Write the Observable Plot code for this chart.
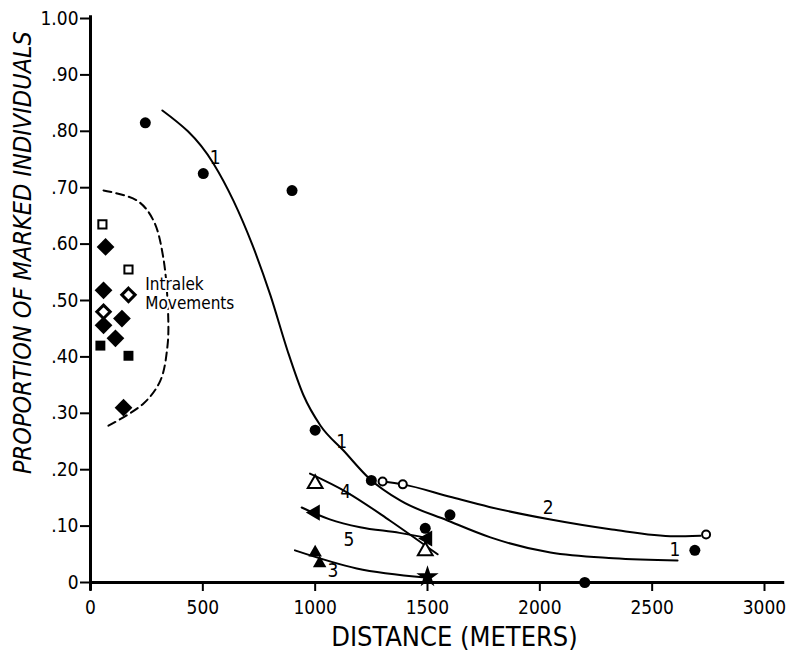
<!DOCTYPE html>
<html><head><meta charset="utf-8">
<script src="https://cdn.jsdelivr.net/npm/d3@7"></script>
<script src="https://cdn.jsdelivr.net/npm/@observablehq/plot@0.6"></script>
<style>body{margin:0;background:#fff} svg{display:block}</style>
</head><body><div id="chart"></div>
<script>
// Axis ticks
const xTicks = [0, 500, 1000, 1500, 2000, 2500, 3000];
const yTicks = [0, 0.1, 0.2, 0.3, 0.4, 0.5, 0.6, 0.7, 0.8, 0.9, 1.0];
const yTickLabels = ["0", ".10", ".20", ".30", ".40", ".50", ".60", ".70", ".80", ".90", "1.00"];

// Observed points (distance m, proportion)
const filledCircles = [[244, 0.815], [502, 0.725], [897, 0.695], [1000, 0.27], [1250, 0.181], [1600, 0.12], [1490, 0.096], [2200, 0.0], [2690, 0.057]];
const openCircles = [[1300, 0.179], [1390, 0.174], [2740, 0.085]];
const openTriangles = [[1000, 0.175], [1490, 0.056]];
const filledTriangles = [[1000, 0.053], [1020, 0.034]];
const leftTriangles = [[1000, 0.124], [1500, 0.078]];
const stars = [[1500, 0.01]];

// Intralek movements
const ilFilledDiamonds = [[67, 0.595], [58, 0.518], [140, 0.468], [58, 0.456], [111, 0.433], [147, 0.31]];
const ilOpenDiamonds = [[169, 0.51], [58, 0.48]];
const ilOpenSquares = [[53, 0.635], [169, 0.555]];
const ilFilledSquares = [[44, 0.42], [169, 0.402]];

// Fitted curves
const curve1 = [[320, 0.837], [547, 0.743], [636, 0.677], [721, 0.598], [801, 0.509], [877, 0.411], [948, 0.332], [1024, 0.278], [1126, 0.234], [1242, 0.184], [1380, 0.145], [1589, 0.11], [1780, 0.08], [2047, 0.053], [2328, 0.043], [2613, 0.039]];
const curve2 = [[1300, 0.179], [1390, 0.174], [1600, 0.152], [1775, 0.134], [2042, 0.112], [2321, 0.094], [2600, 0.082], [2715, 0.083]];
const curve3 = [[910, 0.057], [1185, 0.025], [1490, 0.009]];
const curve4 = [[977, 0.193], [1141, 0.16], [1332, 0.11], [1545, 0.05]];
const curve5 = [[940, 0.133], [1065, 0.112], [1200, 0.098], [1376, 0.088], [1510, 0.078]];
const intralekBoundary = [[58, 0.695], [208, 0.677], [280, 0.642], [324, 0.576], [346, 0.47], [342, 0.417], [311, 0.358], [235, 0.317], [80, 0.278]];

// Curve labels
const curveLabels = [
  {x: 555, y: 0.752, t: "1"}, {x: 1118, y: 0.25, t: "1"}, {x: 2601, y: 0.057, t: "1"},
  {x: 2037, y: 0.133, t: "2"}, {x: 1079, y: 0.02, t: "3"}, {x: 1136, y: 0.161, t: "4"}, {x: 1150, y: 0.076, t: "5"}
];

const FONT = "'DejaVu Sans Condensed', 'DejaVu Sans', sans-serif";
const X = d => d[0], Y = d => d[1];

const chart = Plot.plot({
  width: 794,
  height: 661,
  marginLeft: 90,
  marginRight: 30,
  marginTop: 18,
  marginBottom: 79,
  style: {fontFamily: FONT, background: "#fff", color: "#000"},
  x: {domain: [0, 3000], ticks: xTicks},
  y: {domain: [0, 1], ticks: yTicks},
  marks: [
    Plot.axisY({ticks: yTicks, tickFormat: (d, i) => yTickLabels[i], tickSize: 10, tickPadding: 2, fontSize: 19, strokeWidth: 2, label: null}),
    Plot.axisX({ticks: xTicks, tickFormat: d => String(d), tickSize: 9, tickPadding: 9, fontSize: 19, strokeWidth: 2, label: null}),
    Plot.ruleX([0], {y1: -0.015, y2: 1.005, strokeWidth: 3}),
    Plot.ruleY([0], {x1: 0, x2: 3090, strokeWidth: 3}),
    Plot.line(intralekBoundary, {x: X, y: Y, curve: "catmull-rom", strokeWidth: 2, strokeDasharray: "8,5"}),
    Plot.line(curve1, {x: X, y: Y, curve: "monotone-x", strokeWidth: 2}),
    Plot.line(curve2, {x: X, y: Y, curve: "monotone-x", strokeWidth: 2}),
    Plot.line(curve3, {x: X, y: Y, curve: "monotone-x", strokeWidth: 2}),
    Plot.line(curve4, {x: X, y: Y, curve: "monotone-x", strokeWidth: 2}),
    Plot.line(curve5, {x: X, y: Y, curve: "monotone-x", strokeWidth: 2}),
    Plot.text(["Intralek\nMovements"], {x: 244, y: 0.528, text: d => d, textAnchor: "start", lineAnchor: "middle", lineHeight: 1.1, fontSize: 17, fontWeight: 500, fill: "#000", stroke: "#fff", strokeWidth: 4, paintOrder: "stroke", dy: 9}),
    Plot.dot(filledCircles, {x: X, y: Y, r: 5.5, fill: "#000", stroke: "none"}),
    Plot.dot(openCircles, {x: X, y: Y, r: 4, fill: "#fff", stroke: "#000", strokeWidth: 2}),
    Plot.dot(openTriangles, {x: X, y: Y, symbol: "triangle", r: 5.5, fill: "#fff", stroke: "#000", strokeWidth: 2}),
    Plot.dot(filledTriangles, {x: X, y: Y, symbol: "triangle", r: 5, fill: "#000", stroke: "none"}),
    Plot.dot(leftTriangles, {x: X, y: Y, symbol: "triangle", r: 6, rotate: -90, fill: "#000", stroke: "none"}),
    Plot.dot(stars, {x: X, y: Y, symbol: "star", r: 7, fill: "#000", stroke: "none"}),
    Plot.dot(ilFilledDiamonds, {x: X, y: Y, symbol: "diamond2", r: 8, fill: "#000", stroke: "none"}),
    Plot.dot(ilOpenDiamonds, {x: X, y: Y, symbol: "diamond2", r: 6, fill: "#fff", stroke: "#000", strokeWidth: 3}),
    Plot.dot(ilOpenSquares, {x: X, y: Y, symbol: "square", r: 4.6, fill: "#fff", stroke: "#000", strokeWidth: 2}),
    Plot.dot(ilFilledSquares, {x: X, y: Y, symbol: "square", r: 5.6, fill: "#000", stroke: "none"}),
    Plot.text(curveLabels, {x: "x", y: "y", text: "t", fontSize: 19, fill: "#000"}),
    Plot.text(["DISTANCE (METERS)"], {x: 1620, y: -0.098, text: d => d, fontSize: 27, fill: "#000"}),
    Plot.text(["PROPORTION OF MARKED INDIVIDUALS"], {x: -300, y: 0.585, text: d => d, rotate: -90, fontSize: 25, fontStyle: "italic", fill: "#000"})
  ]
});
document.getElementById("chart").appendChild(chart);
</script>
</body></html>
